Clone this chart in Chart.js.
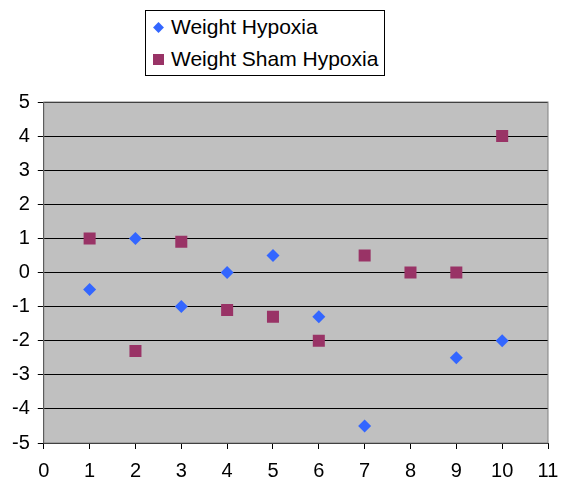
<!DOCTYPE html>
<html>
<head>
<meta charset="utf-8">
<script src="https://cdn.jsdelivr.net/npm/chart.js@4/dist/chart.umd.min.js"></script>
<style>
  body { margin: 0; background: #fff; }
  #wrap { position: relative; width: 563px; height: 486px; }
  #legend {
    position: absolute; left: 145px; top: 10px; width: 240px; height: 66px;
    border: 1px solid #000; box-sizing: border-box; background: #fff;
    font-family: 'Liberation Sans', Arial, sans-serif; font-size: 21px; color: #000;
    padding: 0 0 0 7px;
  }
  #legend div { height: 32px; line-height: 32px; white-space: nowrap; }
  #legend span.mark { display: inline-block; width: 11px; height: 11px; margin-right: 7px; vertical-align: 1px; }
</style>
</head>
<body>
<div id="wrap">
  <canvas id="chart" width="563" height="486"></canvas>
  <div id="legend"></div>
</div>
<script>
'use strict';

const xValues = [1, 2, 3, 4, 5, 6, 7, 8, 9, 10];
const hypoxia = [-0.5, 1, -1, 0, 0.5, -1.3, -4.5, null, -2.5, -2];
const shamHypoxia = [1, -2.3, 0.9, -1.1, -1.3, -2, 0.5, 0, 0, 4];
const seriesNames = ['Weight Hypoxia', 'Weight Sham Hypoxia'];
const seriesColors = ['#3366FF', '#993366'];

function toPoints(values) {
    let pts = [];
    for (let i = 0; i < xValues.length; i++) {
        if (values[i] !== null) pts.push({ x: xValues[i], y: values[i] });
    }
    return pts;
}

// grey plot area with a dark frame
const plotBackground = {
    id: 'plotBackground',
    beforeDraw(chart) {
        const a = chart.chartArea;
        const ctx = chart.ctx;
        ctx.save();
        ctx.fillStyle = '#C0C0C0';
        ctx.fillRect(a.left, a.top, a.right - a.left, a.bottom - a.top);
        ctx.restore();
    },
    afterDatasetsDraw(chart) {
        const a = chart.chartArea;
        const ctx = chart.ctx;
        ctx.save();
        ctx.strokeStyle = '#808080';
        ctx.lineWidth = 1;
        ctx.strokeRect(a.left, a.top, a.right - a.left, a.bottom - a.top);
        ctx.restore();
    }
};

const tickFont = { family: "'Liberation Sans', Arial, sans-serif", size: 20 };

new Chart(document.getElementById('chart'), {
    type: 'scatter',
    data: {
        datasets: [
            {
                label: seriesNames[0],
                data: toPoints(hypoxia),
                pointStyle: 'rectRot',
                radius: 6.5,
                backgroundColor: seriesColors[0],
                borderColor: seriesColors[0],
                borderWidth: 0
            },
            {
                label: seriesNames[1],
                data: toPoints(shamHypoxia),
                pointStyle: 'rect',
                radius: 8.5,
                backgroundColor: seriesColors[1],
                borderColor: seriesColors[1],
                borderWidth: 0
            }
        ]
    },
    options: {
        responsive: false,
        animation: false,
        layout: { padding: { top: 102, right: 15, left: 4, bottom: -7 } },
        scales: {
            x: {
                min: 0, max: 11,
                ticks: { stepSize: 1, color: '#000', font: tickFont, padding: 10 },
                grid: { drawOnChartArea: false, drawTicks: true, tickLength: 6, color: '#000' },
                border: { color: '#000' },
                // the "11" label may run into the right margin
                afterFit: (scale) => { scale.paddingRight = 10; }
            },
            y: {
                min: -5, max: 5,
                ticks: { stepSize: 1, color: '#000', font: tickFont, padding: 8 },
                grid: { color: '#000', tickLength: 6 },
                border: { color: '#000' }
            }
        },
        plugins: {
            legend: { display: false },
            tooltip: { enabled: false }
        }
    },
    plugins: [plotBackground]
});

// legend as real text
const legend = document.getElementById('legend');
seriesNames.forEach((name, i) => {
    const row = document.createElement('div');
    const mark = document.createElement('span');
    mark.className = 'mark';
    mark.style.background = seriesColors[i];
    if (i === 0) { mark.style.transform = 'rotate(45deg) scale(0.7)'; }
    row.appendChild(mark);
    row.appendChild(document.createTextNode(name));
    legend.appendChild(row);
});
</script>
</body>
</html>
